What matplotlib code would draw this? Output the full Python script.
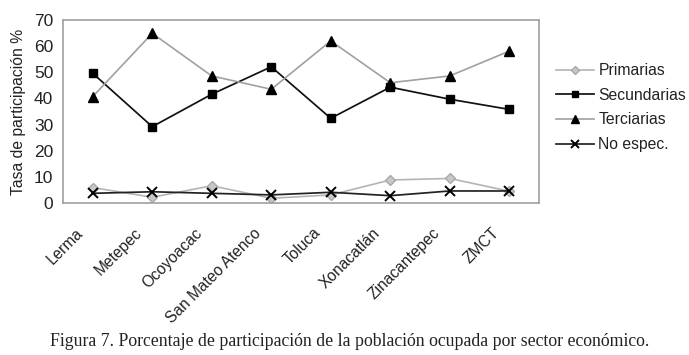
import matplotlib
matplotlib.use("Agg")
import matplotlib.pyplot as plt
import matplotlib.transforms as mtransforms

categories = ["Lerma", "Metepec", "Ocoyoacac", "San Mateo Atenco", "Toluca",
              "Xonacatlán", "Zinacantepec", "ZMCT"]
primarias = [5.9, 2.2, 6.6, 1.8, 3.1, 8.8, 9.4, 4.5]
secundarias = [49.6, 29.2, 41.6, 52.1, 32.4, 44.3, 39.7, 35.8]
terciarias = [40.7, 64.9, 48.6, 43.5, 62.0, 46.0, 48.6, 58.1]
no_espec = [3.7, 4.3, 3.7, 3.1, 4.1, 2.8, 4.6, 4.6]
yticks = [0, 10, 20, 30, 40, 50, 60, 70]

plt.rcParams['font.family'] = ['Liberation Sans', 'DejaVu Sans']

W, H = 689, 355
fig = plt.figure(figsize=(W / 100, H / 100), dpi=100)
ax = fig.add_axes([63 / W, 1 - 203 / H, (539 - 63) / W, (203 - 20) / H])

x = list(range(len(categories)))
ax.plot(x, primarias, color='#b4b4b4', lw=1.2, marker='D', ms=5,
        mfc='#c8c8c8', mec='#a8a8a8', label='Primarias')
ax.plot(x, secundarias, color='#111111', lw=1.25, marker='s', ms=5.5,
        mfc='black', mec='black', label='Secundarias')
ax.plot(x, terciarias, color='#a0a0a0', lw=1.2, marker='^', ms=7,
        mfc='black', mec='black', label='Terciarias')
ax.plot(x, no_espec, color='#222222', lw=1.25, marker='x', ms=6.5, mew=1.4,
        mec='black', label='No espec.')

ax.set_xlim(-0.5, len(categories) - 0.5)
ax.set_ylim(0, 70)
ax.set_yticks(yticks)
ax.set_yticklabels([str(v) for v in yticks], fontsize=12.5, color='#222222')
ax.set_xticks(x)
ax.set_xticklabels(categories, rotation=45, ha='right', va='top',
                   fontsize=11.2, color='#222222')
ax.tick_params(axis='both', length=0)
ax.tick_params(axis='y', pad=7)
ax.tick_params(axis='x', pad=16)
offset = mtransforms.ScaledTranslation(-7 / 100, 0, fig.dpi_scale_trans)
for lab in ax.get_xticklabels():
    lab.set_transform(lab.get_transform() + offset)

for sp in ax.spines.values():
    sp.set_color('#a0a0a0')
    sp.set_linewidth(1.2)

ax.set_ylabel('Tasa de participación %', fontsize=11.3, color='#222222', labelpad=6)

leg = ax.legend(loc='upper left', bbox_to_anchor=(556 / W, 1 - 63 / H),
                bbox_transform=fig.transFigure, frameon=False, fontsize=11.3,
                handlelength=2.4, handletextpad=0.3, labelspacing=0.62,
                borderpad=0, borderaxespad=0, markerscale=0.85)
for t in leg.get_texts():
    t.set_color('#222222')

fig.text(350 / W, 1 - 342 / H,
         'Figura 7. Porcentaje de participación de la población ocupada por sector económico.',
         ha='center', va='center', fontsize=12.8, family='Liberation Serif', color='#222222')

fig.savefig('out.png', dpi=100)
